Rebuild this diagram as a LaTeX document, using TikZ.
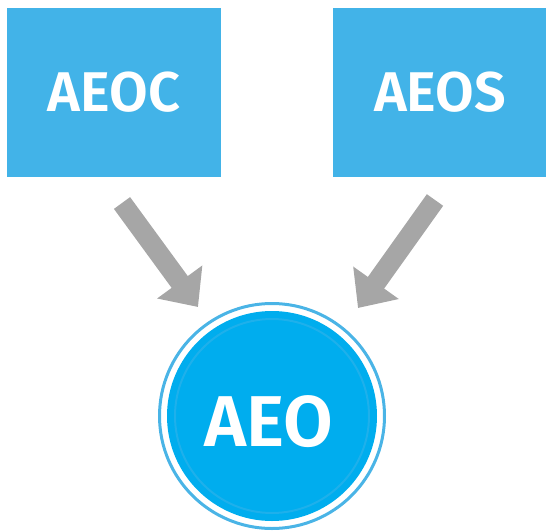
\documentclass[tikz,border=0pt]{standalone}
\usepackage{fontspec}
\setmainfont{Fira Sans}[BoldFont={Fira Sans SemiBold}]
\usetikzlibrary{arrows.meta}
\definecolor{boxblue}{HTML}{42B3E8}
\definecolor{discblue}{HTML}{00ADEE}
\definecolor{ringblue}{HTML}{4AB4E6}
\definecolor{arrowgray}{HTML}{A6A6A6}

\tikzset{
  partbox/.style={fill=boxblue, minimum width=214pt, minimum height=169pt, inner sep=0pt,
    text=white, font=\fontsize{56}{60}\selectfont\bfseries},
  maindisc/.style={circle, fill=discblue, minimum size=210pt, inner sep=0pt},
  disclabel/.style={text=white, font=\fontsize{72}{78}\selectfont\bfseries},
  flow/.style={draw=arrowgray, line width=20pt, -{Triangle[width=54pt,length=31pt]}}
}

\begin{document}
\begin{tikzpicture}[x=1pt,y=-1pt]
\useasboundingbox (0,0) rectangle (546,530);

\node[partbox] (aeoc) at (114,92) {AEOC};
\node[partbox] (aeos) at (440,92) {AEOS};
\node[maindisc] (aeo) at (272,416) {};
\node[disclabel] (aeolabel) at (269,422) {AEO};

% rings round the disc
\draw[ringblue, line width=3pt] (aeo.center) circle [radius=112.5pt];
\draw[ringblue!40!discblue, line width=2pt] (aeo.center) circle [radius=97pt];

% arrows into the disc
\coordinate (cTail) at (122,203);
\coordinate (cTip) at (198,307);
\coordinate (sTail) at (435,200);
\coordinate (sTip) at (358,308);
\draw[flow] (cTail) -- (cTip);
\draw[flow] (sTail) -- (sTip);
\end{tikzpicture}
\end{document}
